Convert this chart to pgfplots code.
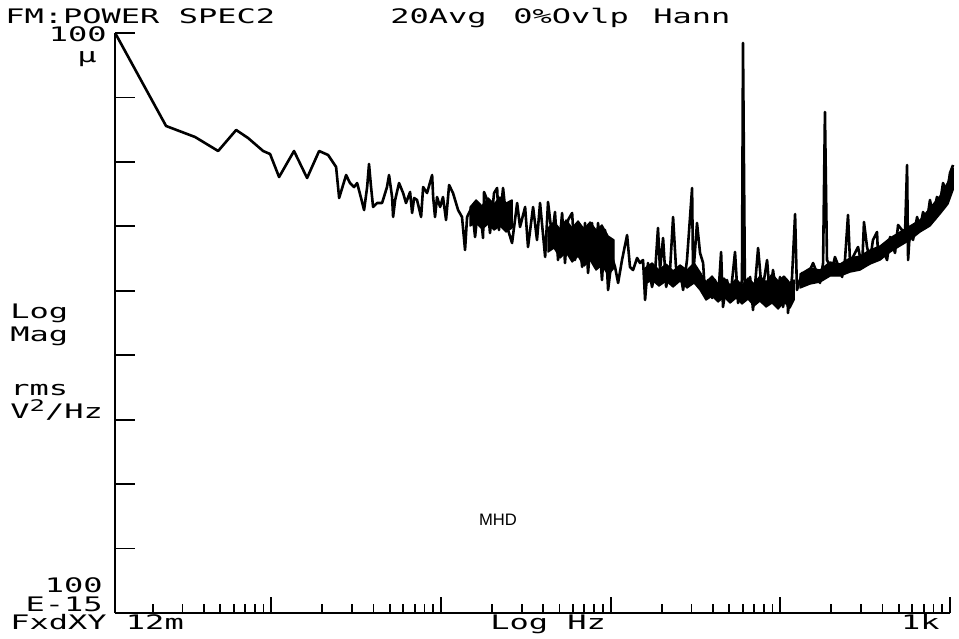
\documentclass[border=0pt]{standalone}
\usepackage{pgfplots}
\pgfplotsset{compat=1.18}
\usepackage{pgfplotstable}
\usepackage{fontspec}
\newfontfamily\plt{DejaVu Sans Mono}[FakeStretch=1.6]
\newfontfamily\mhd{Liberation Sans}
\newcommand{\pf}{\plt\fontsize{10}{11}\selectfont}

% x = log10(frequency / Hz), y = log10(PSD / (V^2/Hz))
\pgfplotstableread{
x y
-1.920 -4.000
-1.620 -5.443
-1.449 -5.614
-1.313 -5.831
-1.207 -5.505
-1.137 -5.629
-1.048 -5.831
-1.007 -5.878
-0.954 -6.235
-0.866 -5.831
-0.789 -6.250
-0.718 -5.831
-0.665 -5.893
-0.618 -6.079
-0.600 -6.560
-0.559 -6.204
-0.536 -6.328
-0.512 -6.390
-0.494 -6.328
-0.471 -6.560
-0.453 -6.747
-0.435 -6.390
-0.424 -6.033
-0.412 -6.390
-0.400 -6.700
-0.376 -6.638
-0.347 -6.638
-0.318 -6.390
-0.306 -6.204
-0.288 -6.545
-0.282 -6.855
-0.270 -6.591
-0.247 -6.328
-0.223 -6.483
-0.206 -6.638
-0.182 -6.467
-0.170 -6.793
-0.158 -6.560
-0.141 -6.591
-0.117 -6.855
-0.105 -6.390
-0.082 -6.483
-0.052 -6.204
-0.046 -6.545
-0.035 -6.855
-0.023 -6.545
-0.005 -6.700
0.012 -6.545
0.030 -6.902
0.048 -6.359
0.071 -6.483
0.101 -6.747
0.124 -6.855
0.142 -7.367
0.154 -6.855
0.183 -6.700
0.201 -7.166
0.213 -6.855
0.230 -6.700
0.248 -7.181
0.254 -6.467
0.272 -6.591
0.289 -7.104
0.313 -6.483
0.331 -6.405
0.342 -7.057
0.366 -6.405
0.390 -7.010
0.419 -7.259
0.449 -6.638
0.466 -7.010
0.496 -6.700
0.513 -7.321
0.543 -6.700
0.566 -7.212
0.584 -6.638
0.614 -7.476
0.631 -6.622
0.655 -7.166
0.672 -6.778
0.690 -7.523
0.714 -6.793
0.731 -7.569
0.749 -6.902
0.773 -6.793
0.790 -7.523
0.808 -6.948
0.832 -7.631
0.849 -6.948
0.867 -7.724
0.890 -6.948
0.908 -7.631
0.926 -6.948
0.949 -7.833
0.967 -7.057
0.985 -7.988
1.008 -7.476
1.026 -7.631
1.044 -7.879
1.067 -7.523
1.097 -7.135
1.114 -7.631
1.132 -7.678
1.156 -7.491
1.173 -7.569
1.191 -7.523
1.203 -8.143
1.220 -7.569
1.244 -7.941
1.262 -7.709
1.279 -7.026
1.291 -7.678
1.309 -7.181
1.327 -7.941
1.350 -7.678
1.368 -6.855
1.385 -7.631
1.409 -7.678
1.427 -7.988
1.450 -7.523
1.480 -6.405
1.486 -7.786
1.509 -6.948
1.527 -7.414
1.545 -7.569
1.556 -8.035
1.574 -7.833
1.598 -8.112
1.615 -7.833
1.633 -8.143
1.651 -7.398
1.662 -8.252
1.686 -7.833
1.704 -8.143
1.733 -7.398
1.751 -8.190
1.774 -7.833
1.780 -4.155
1.792 -8.143
1.822 -7.786
1.839 -8.299
1.869 -7.336
1.892 -8.035
1.922 -7.523
1.939 -8.097
1.957 -7.678
1.981 -8.143
1.998 -7.786
2.016 -8.252
2.040 -7.833
2.045 -8.345
2.069 -7.786
2.087 -6.809
2.098 -7.988
2.128 -7.724
2.146 -7.833
2.175 -7.678
2.193 -7.569
2.216 -7.724
2.234 -7.879
2.252 -7.569
2.263 -5.226
2.275 -7.523
2.305 -7.678
2.322 -7.476
2.340 -7.600
2.364 -7.786
2.381 -7.523
2.399 -6.824
2.411 -7.569
2.440 -7.414
2.458 -7.321
2.482 -7.631
2.493 -6.933
2.511 -7.321
2.529 -7.523
2.546 -7.212
2.570 -7.088
2.576 -7.476
2.599 -7.321
2.629 -7.523
2.647 -7.166
2.676 -7.414
2.694 -6.979
2.717 -7.057
2.735 -7.104
2.747 -6.048
2.753 -7.523
2.764 -7.057
2.782 -7.212
2.806 -6.855
2.823 -7.057
2.841 -6.778
2.865 -6.902
2.882 -6.591
2.900 -6.855
2.923 -6.545
2.941 -6.638
2.959 -6.328
2.982 -6.483
3.000 -6.172
3.018 -6.048
}\spectrum

% dense noise bands (ragged upper edge left to right, then lower edge right to left)
\pgfplotstableread{
x y
0.172 -6.700
0.207 -6.591
0.242 -6.685
0.278 -6.560
0.313 -6.654
0.348 -6.545
0.384 -6.638
0.419 -6.591
0.419 -7.026
0.384 -7.088
0.348 -6.995
0.313 -7.057
0.278 -6.964
0.242 -7.041
0.207 -6.948
0.172 -6.995
}\bandA
\pgfplotstableread{
x y
0.631 -7.026
0.667 -6.933
0.702 -7.041
0.737 -6.902
0.773 -7.026
0.808 -6.917
0.843 -7.041
0.879 -6.933
0.914 -7.057
0.949 -6.979
0.985 -7.150
1.020 -7.212
1.020 -7.647
0.985 -7.755
0.949 -7.600
0.914 -7.678
0.879 -7.523
0.843 -7.616
0.808 -7.461
0.773 -7.553
0.737 -7.398
0.702 -7.491
0.667 -7.336
0.631 -7.398
}\bandB
\pgfplotstableread{
x y
1.203 -7.647
1.244 -7.569
1.285 -7.678
1.327 -7.585
1.368 -7.693
1.409 -7.600
1.450 -7.678
1.492 -7.569
1.527 -7.709
1.562 -7.864
1.598 -7.771
1.633 -7.895
1.668 -7.802
1.704 -7.911
1.739 -7.817
1.774 -7.911
1.810 -7.802
1.845 -7.895
1.880 -7.771
1.916 -7.864
1.951 -7.740
1.987 -7.848
2.022 -7.771
2.057 -7.879
2.081 -7.833
2.081 -8.143
2.057 -8.267
2.022 -8.174
1.987 -8.283
1.951 -8.190
1.916 -8.252
1.880 -8.159
1.845 -8.236
1.810 -8.128
1.774 -8.205
1.739 -8.112
1.704 -8.190
1.668 -8.097
1.633 -8.174
1.598 -8.081
1.562 -8.143
1.527 -7.988
1.492 -7.879
1.450 -7.957
1.409 -7.848
1.368 -7.941
1.327 -7.848
1.285 -7.926
1.244 -7.833
1.203 -7.895
}\bandC
\pgfplotstableread{
x y
2.116 -7.740
2.175 -7.647
2.234 -7.678
2.293 -7.553
2.352 -7.585
2.411 -7.491
2.470 -7.461
2.529 -7.367
2.588 -7.305
2.647 -7.181
2.705 -7.088
2.764 -6.995
2.823 -6.902
2.882 -6.716
2.941 -6.529
2.988 -6.312
3.018 -6.095
3.018 -6.436
2.988 -6.654
2.941 -6.809
2.882 -6.995
2.823 -7.088
2.764 -7.212
2.705 -7.305
2.647 -7.398
2.588 -7.523
2.529 -7.585
2.470 -7.678
2.411 -7.709
2.352 -7.771
2.293 -7.771
2.234 -7.864
2.175 -7.895
2.116 -7.957
}\bandE

\begin{document}
\begin{tikzpicture}
\path[use as bounding box] (-57.5pt,-12.5pt) rectangle (422pt,306.5pt);
\begin{axis}[
  at={(0,0)}, anchor=south west,
  scale only axis, width=417.5pt, height=290pt,
  xmin=-1.921, xmax=3, ymin=-13, ymax=-4,
  axis x line=bottom, axis y line=left,
  axis line style={-, line width=1pt, black},
  tick align=inside,
  xtick={-1,0,1,2,3},
  minor xtick={-1.699,-1.523,-1.398,-1.301,-1.222,-1.155,-1.097,-1.046,
    -0.699,-0.523,-0.398,-0.301,-0.222,-0.155,-0.097,-0.046,
    0.301,0.477,0.602,0.699,0.778,0.845,0.903,0.954,
    1.301,1.477,1.602,1.699,1.778,1.845,1.903,1.954,
    2.301,2.477,2.602,2.699,2.778,2.845,2.903,2.954},
  xticklabels={},
  ytick=\empty,
  extra y ticks={-12,-11,-10,-9,-8,-7,-6,-5,-4},
  extra y tick labels={},
  extra y tick style={major tick length=10pt},
  major tick length=8pt, minor tick length=4.5pt,
  every tick/.style={black, line width=0.9pt},
  clip=false,
]
\addplot[black, fill=black, line width=0.7pt, line join=round, mark=none] table[x=x, y=y] {\bandA} -- cycle;
\addplot[black, fill=black, line width=0.7pt, line join=round, mark=none] table[x=x, y=y] {\bandB} -- cycle;
\addplot[black, fill=black, line width=0.7pt, line join=round, mark=none] table[x=x, y=y] {\bandC} -- cycle;
\addplot[black, fill=black, line width=0.7pt, line join=round, mark=none] table[x=x, y=y] {\bandE} -- cycle;
\addplot[black, line width=1.3pt, line join=round, mark=none] table[x=x, y=y] {\spectrum};
\end{axis}
% texts (positions in pt relative to the lower-left corner of the axis)
\begin{scope}[every node/.style={inner sep=0pt, font=\pf}]
\node[anchor=base west] at (-55pt,294.5pt) {FM:POWER SPEC2};
\node[anchor=base west] at (137.5pt,294.5pt) {20Avg};
\node[anchor=base west] at (199pt,294.5pt) {0\%Ovlp};
\node[anchor=base west] at (269pt,294.5pt) {Hann};
\node[anchor=base east] at (-4pt,285.5pt) {100};
\node[anchor=base east] at (-9pt,275pt) {μ};
\node[anchor=base west] at (-52.5pt,147pt) {Log};
\node[anchor=base west] at (-52.5pt,135.5pt) {Mag};
\node[anchor=base west] at (-52.5pt,109pt) {rms};
\node[anchor=base west] at (-52.5pt,97.5pt) {V\raisebox{3.5pt}{\fontsize{8}{8}\selectfont 2}/Hz};
\node[anchor=base east] at (-6pt,10.5pt) {100};
\node[anchor=base east] at (-6pt,1pt) {E-15};
\node[anchor=base west] at (-52.5pt,-8pt) {FxdXY 12m};
\node[anchor=base west] at (187.5pt,-8pt) {Log Hz};
\node[anchor=base east] at (412.5pt,-8pt) {1k};
\node[font=\mhd\fontsize{8.3}{10}\selectfont] at (191.5pt,46.5pt) {MHD};
\end{scope}
\end{tikzpicture}
\end{document}
